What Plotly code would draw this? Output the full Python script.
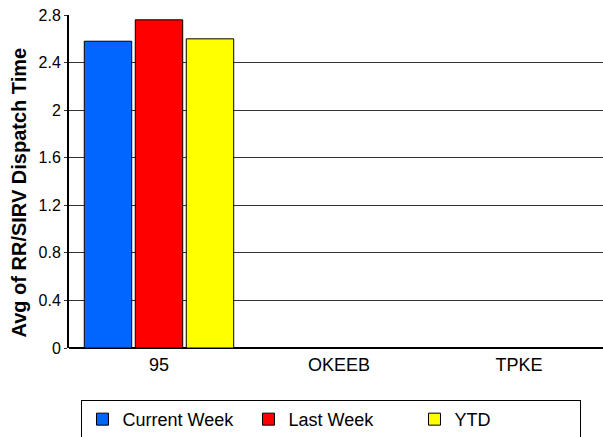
import plotly.graph_objects as go

categories = ["95", "OKEEB", "TPKE"]
current_week = [2.58, None, None]
last_week = [2.76, None, None]
ytd = [2.60, None, None]
y_ticks = [0, 0.4, 0.8, 1.2, 1.6, 2, 2.4, 2.8]
y_title = "Avg of RR/SIRV Dispatch Time"

FONT = "Liberation Sans, Arial, sans-serif"

fig = go.Figure()
for name, vals, col in [("Current Week", current_week, "#0066FF"),
                        ("Last Week", last_week, "#FF0000"),
                        ("YTD", ytd, "#FFFF00")]:
    fig.add_trace(go.Bar(x=categories, y=vals, name=name,
                         marker=dict(color=col, line=dict(color="black", width=1))))

fig.update_layout(
    width=603, height=437,
    margin=dict(l=69, r=0, t=15, b=89, autoexpand=False),
    paper_bgcolor="white", plot_bgcolor="white",
    barmode="group", bargap=0.15, bargroupgap=0.07,
    font=dict(family=FONT, color="black"),
    showlegend=True,
    legend=dict(orientation="h", x=0.0234, xanchor="left", y=-0.156, yanchor="top",
                bordercolor="black", borderwidth=1, bgcolor="white",
                font=dict(size=18, family=FONT), entrywidth=121, entrywidthmode="pixels"),
    annotations=[dict(text="<b>" + y_title + "</b>", textangle=-90, xref="paper", yref="paper",
                      x=(18.5 - 69) / 534, y=(348 - 193) / 333, xanchor="center", yanchor="middle",
                      showarrow=False, font=dict(size=20, family=FONT, color="black"))],
)
fig.update_xaxes(range=[-0.5, 2.4667], showgrid=False, showline=False, ticks="",
                 tickfont=dict(size=18), ticklabelstandoff=4)
fig.update_yaxes(range=[0, 2.8005], tickvals=y_ticks, ticktext=[str(t) for t in y_ticks],
                 showgrid=True, gridcolor="#333333", gridwidth=1.3,
                 showline=True, linecolor="black", linewidth=2,
                 zeroline=True, zerolinecolor="black", zerolinewidth=2,
                 ticks="outside", ticklen=3, tickcolor="#333333", tickfont=dict(size=16))

fig.write_html("out.html", config={"displayModeBar": False},
               post_script="document.body.style.margin='0';")
